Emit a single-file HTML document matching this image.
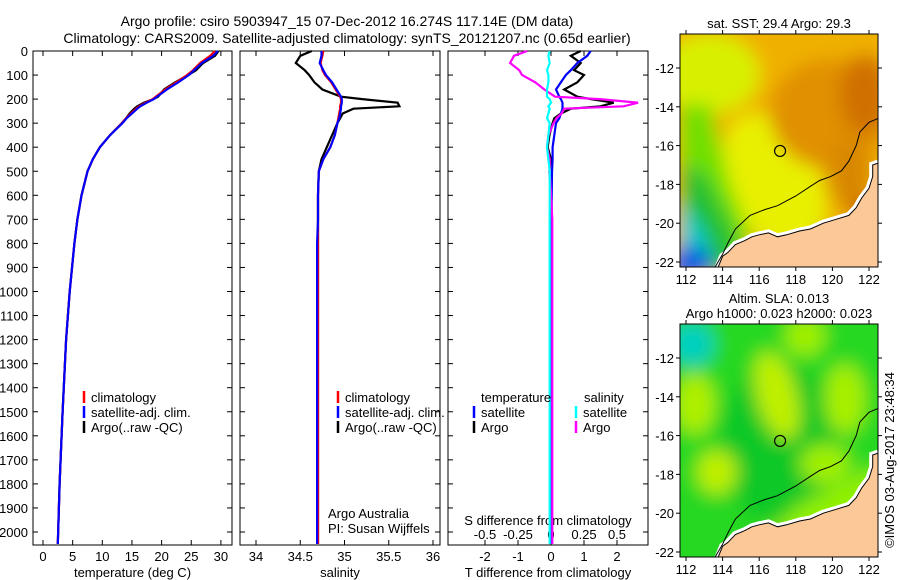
<!DOCTYPE html>
<html><head><meta charset="utf-8"><style>
body{margin:0;background:#fff}
svg{display:block;font-family:"Liberation Sans",sans-serif;font-size:13px}
</style></head><body>
<svg id="s" width="900" height="580" viewBox="0 0 900 580">
<text x="347" y="26" text-anchor="middle" font-size="14">Argo profile: csiro 5903947_15 07-Dec-2012 16.274S 117.14E (DM data)</text>
<text x="347" y="43" text-anchor="middle" font-size="14">Climatology: CARS2009. Satellite-adjusted climatology: synTS_20121207.nc (0.65d earlier)</text>
<g id="maps"></g>
<g id="plots"></g>
<text transform="translate(894,460) rotate(-90)" text-anchor="middle">©IMOS 03-Aug-2017 23:48:34</text>
</svg>
<script>
// ---- data ----
const depthTicks=[0,100,200,300,400,500,600,700,800,900,1000,1100,1200,1300,1400,1500,1600,1700,1800,1900,2000];
const tempTicks=[0,5,10,15,20,25,30];
const salTicks=[34,34.5,35,35.5,36];
const tdTicks=[-2,-1,0,1,2];
const sdTicks=[-0.5,-0.25,0,0.25,0.5];
const sdTickLabels=["-0.5","-0.25","0","0.25","0.5"];
const depths=[0,20,50,80,100,130,160,190,200,215,230,240,260,280,300,350,400,450,500,600,700,800,1000,1200,1500,1800,2050];
const tempClim=[29.0,28.2,26.5,25.3,24.3,22.5,20.6,19.0,18.5,17.3,16.2,15.7,14.8,14.0,13.3,11.3,9.6,8.4,7.5,6.5,5.8,5.3,4.5,3.9,3.3,2.8,2.5];
const tempSat=[29.5,28.7,26.8,25.5,24.6,22.8,20.9,19.2,18.7,17.5,16.4,15.9,15.0,14.1,13.4,11.3,9.6,8.4,7.5,6.5,5.8,5.3,4.5,3.9,3.3,2.8,2.5];
const tempArgo=[29.6,29.0,27.0,25.8,24.5,22.3,20.4,19.4,18.6,17.0,15.9,15.4,14.6,14.0,13.3,11.3,9.6,8.4,7.5,6.5,5.8,5.3,4.5,3.9,3.3,2.8,2.5];
const salClim=[34.76,34.75,34.73,34.75,34.78,34.85,34.90,34.95,34.96,34.96,34.95,34.95,34.94,34.93,34.92,34.89,34.84,34.76,34.71,34.70,34.70,34.70,34.70,34.70,34.70,34.70,34.70];
const salSat=[34.74,34.74,34.72,34.76,34.79,34.86,34.91,34.96,34.97,34.97,34.96,34.96,34.95,34.94,34.92,34.89,34.84,34.76,34.71,34.70,34.70,34.69,34.69,34.69,34.69,34.69,34.69];
const salArgo=[34.63,34.50,34.45,34.55,34.60,34.66,34.75,34.96,35.20,35.60,35.62,35.10,34.98,34.95,34.92,34.86,34.80,34.74,34.71,34.70,34.70,34.70,34.70,34.70,34.70,34.70,34.70];
const tdArgo=[0.9,0.6,0.9,0.7,1.0,0.8,0.4,0.8,1.2,1.9,1.5,0.6,0.3,0.1,0.05,-0.05,-0.1,0.0,-0.05,0.0,0.0,0.0,0.0,0.0,0.0,0.0,0.0];
const tdSat=[1.2,1.1,0.8,0.6,0.45,0.3,0.15,0.25,0.3,0.35,0.35,0.35,0.3,0.25,0.15,0.1,0.05,0.05,0.03,0.02,0.02,0.01,0.0,0.0,0.0,0.0,0.0];
const sdSat=[-0.01,-0.02,-0.01,-0.03,-0.02,-0.02,-0.03,-0.03,-0.01,0.0,-0.02,-0.01,-0.02,-0.03,-0.01,-0.02,-0.03,-0.02,-0.01,-0.01,-0.01,-0.01,-0.01,-0.01,-0.01,-0.01,-0.01];
const sdArgo=[-0.18,-0.28,-0.31,-0.24,-0.22,-0.12,-0.05,0.03,0.37,0.66,0.55,0.10,0.08,0.04,0.02,-0.02,-0.03,-0.01,-0.01,0.0,0.01,0.01,0.01,0.01,0.01,0.01,0.01];
const coastLL=[[113.7,-22.4],[114,-21.7],[114.3,-21.5],[114.7,-21.1],[115.2,-20.9],[115.6,-20.7],[116,-20.6],[116.5,-20.5],[117,-20.7],[117.5,-20.6],[118.2,-20.4],[118.8,-20.3],[119.5,-20],[120.2,-19.8],[120.9,-19.6],[121.3,-19.2],[121.6,-18.7],[122,-18.2],[122.2,-17.6],[122.2,-17.0],[122.5,-16.9]];
const isoLL=[[113.5,-22.4],[114,-21.6],[114.3,-21],[114.7,-20.3],[115.5,-19.6],[116.3,-19.3],[117,-19.1],[118,-18.6],[118.8,-18.1],[119.3,-17.8],[119.9,-17.6],[120.5,-17.3],[120.9,-16.8],[121.3,-16],[121.5,-15.3],[122,-14.8],[122.5,-14.6]];
const lonTicks=[112,114,116,118,120,122];
const latTicks=[-12,-14,-16,-18,-20,-22];
const argoPos=[117.14,-16.274];
// ---- helpers ----
const NS="http://www.w3.org/2000/svg";
function mk(p,t,a){const e=document.createElementNS(NS,t);for(const k in a)e.setAttribute(k,a[k]);p.appendChild(e);return e;}
const plots=document.getElementById('plots');
const yD=d=>51+d*0.2405;
const PT=51,PB=545;
function panel(name,x0,x1,xs,ticks,labels,xlabel){
  const g=mk(plots,'g',{});
  
  
  const r=mk(g,'rect',{x:x0,y:PT,width:x1-x0,height:PB-PT,fill:'#fff',stroke:'#000','stroke-width':1});
  
  
  ticks.forEach((t,i)=>{const x=xs(t);
    mk(g,'line',{x1:x,x2:x,y1:PT,y2:PT+5,stroke:'#000'});
    mk(g,'line',{x1:x,x2:x,y1:PB,y2:PB-5,stroke:'#000'});
    const tx=mk(g,'text',{x:x,y:561,'text-anchor':'middle'});tx.textContent=labels[i];
    
    
  });
  depthTicks.forEach(d=>{mk(g,'line',{x1:x0,x2:x0+5,y1:yD(d),y2:yD(d),stroke:'#000'});mk(g,'line',{x1:x1,x2:x1-5,y1:yD(d),y2:yD(d),stroke:'#000'});});
  if(xlabel){const t=mk(g,'text',{x:(x0+x1)/2,y:577,'text-anchor':'middle'});t.textContent=xlabel;
    
    }
  return g;
}
function line(g,vals,xs,col,name){
  const pts=vals.map((v,i)=>xs(v).toFixed(1)+','+yD(depths[i]).toFixed(1)).join(' ');
  const p=mk(g,'polyline',{points:pts,fill:'none',stroke:col,'stroke-width':2.2});
  
  
}
function txt(g,x,y,s,name,anchor){const t=mk(g,'text',{x:x,y:y,'text-anchor':anchor||'start'});t.textContent=s;
  
  return t;}
function leg(g,x,y,col,s,name){mk(g,'line',{x1:x,x2:x,y1:y-6,y2:y+6,stroke:col,'stroke-width':2.5});txt(g,x+7,y+5,s,name);}
// panel 1
const xT=v=>43+v*5.93;
const g1=panel('temperature-panel',33,232,xT,tempTicks,tempTicks.map(String),'temperature (deg C)');
depthTicks.forEach(d=>{const t=txt(g1,28,yD(d)+5,String(d),'y-tick-label','end');});
line(g1,tempArgo,xT,'#000','temp-argo-line');line(g1,tempClim,xT,'#f00','temp-climatology-line');line(g1,tempSat,xT,'#00f','temp-satellite-line');
leg(g1,84,397,'#f00','climatology','legend-climatology');leg(g1,84,412,'#00f','satellite-adj. clim.','legend-satellite');leg(g1,84,427,'#000','Argo(..raw -QC)','legend-argo');
// panel 2
const xS=v=>256+(v-34)*88.5;
const g2=panel('salinity-panel',240,440,xS,salTicks,salTicks.map(String),'salinity');
line(g2,salArgo,xS,'#000','sal-argo-line');line(g2,salClim,xS,'#f00','sal-climatology-line');line(g2,salSat,xS,'#00f','sal-satellite-line');
leg(g2,338,397,'#f00','climatology','legend-climatology');leg(g2,338,412,'#00f','satellite-adj. clim.','legend-satellite');leg(g2,338,427,'#000','Argo(..raw -QC)','legend-argo');
txt(g2,328,518,'Argo Australia','credit-argo-australia');txt(g2,328,533,'PI: Susan Wijffels','credit-pi');
// panel 3
const xTD=v=>551+v*33, xSD=v=>551+v*132;
const g3=panel('difference-panel',448,648,xTD,tdTicks,tdTicks.map(String),'T difference from climatology');
sdTicks.forEach((t,i)=>txt(g3,xSD(t),539,sdTickLabels[i],'s-diff-tick-label','middle'));
txt(g3,548,525,'S difference from climatology','s-diff-axis-title','middle');
line(g3,tdArgo,xTD,'#000','tdiff-argo-line');line(g3,tdSat,xTD,'#00f','tdiff-satellite-line');
line(g3,sdArgo,xSD,'#f0f','sdiff-argo-line');line(g3,sdSat,xSD,'#0ff','sdiff-satellite-line');
txt(g3,481,402,'temperature','legend-temperature-heading');txt(g3,584,402,'salinity','legend-salinity-heading');
leg(g3,474,412,'#00f','satellite','legend-t-satellite');leg(g3,474,427,'#000','Argo','legend-t-argo');
leg(g3,576,412,'#0ff','satellite','legend-s-satellite');leg(g3,576,427,'#f0f','Argo','legend-s-argo');
// ---- maps ----
const maps=document.getElementById('maps');
function map(name,top,blobs,title){
  const g=mk(maps,'g',{});
  
  
  const L=680,R=878,T=top,B=top+233;
  const lx=v=>686+(v-112)*18.3, ly=v=>T+34+(-12-v)*19.4;
  const id='clip'+top;
  const cp=mk(g,'clipPath',{id:id});mk(cp,'rect',{x:L,y:T,width:R-L,height:B-T});
  const f=mk(g,'filter',{id:'bl'+top,x:'-50%',y:'-50%',width:'200%',height:'200%'});mk(f,'feGaussianBlur',{stdDeviation:9});
  const cg=mk(g,'g',{'clip-path':'url(#'+id+')'});
  const bg=mk(cg,'g',{filter:'url(#bl'+top+')'});
  blobs.forEach(b=>{if(b[0]==='r')mk(bg,'rect',{x:L-30,y:T-30,width:R-L+60,height:B-T+60,fill:b[1]});
    else if(b[0]==='p')mk(bg,'polygon',{points:b[2].map(p=>(L+p[0])+','+(T+p[1])).join(' '),fill:b[1]});
    else mk(bg,'ellipse',{cx:L+b[2],cy:T+b[3],rx:b[4],ry:b[5],fill:b[1],transform:'rotate('+(b[6]||0)+' '+(L+b[2])+' '+(T+b[3])+')'});});
  const cpts=coastLL.map(p=>lx(p[0]).toFixed(1)+','+ly(p[1]).toFixed(1));
  mk(cg,'polyline',{points:cpts.join(' '),fill:'none',stroke:'#fff','stroke-width':7});
  const land=mk(cg,'polygon',{points:cpts.join(' ')+' '+(R+5)+','+ly(-16.9)+' '+(R+5)+','+(B+5)+' '+lx(113.7)+','+(B+5),fill:'#fcc898',stroke:'#000','stroke-width':1});
  
  
  const iso=mk(cg,'polyline',{points:isoLL.map(p=>lx(p[0]).toFixed(1)+','+ly(p[1]).toFixed(1)).join(' '),fill:'none',stroke:'#000','stroke-width':1});
  
  
  mk(g,'rect',{x:L,y:T,width:R-L,height:B-T,fill:'none',stroke:'#000'});
  lonTicks.forEach(v=>{const x=lx(v);mk(g,'line',{x1:x,x2:x,y1:T,y2:T-4,stroke:'#000'});mk(g,'line',{x1:x,x2:x,y1:B,y2:B+4,stroke:'#000'});
    const t=txt(g,x,B+17,String(v),'lon-tick-label','middle');t.setAttribute('font-size','13');});
  latTicks.forEach(v=>{const y=ly(v);mk(g,'line',{x1:L,x2:L-4,y1:y,y2:y,stroke:'#000'});mk(g,'line',{x1:R,x2:R+4,y1:y,y2:y,stroke:'#000'});
    const t=txt(g,L-6,y+5,String(v),'lat-tick-label','end');t.setAttribute('font-size','13');});
  const c=mk(g,'circle',{cx:lx(argoPos[0]),cy:ly(argoPos[1]),r:5.5,fill:'none',stroke:'#000','stroke-width':1.2});
  
  
  title.forEach((s,i)=>txt(g,779,top-(title.length-i)*15+9,s,'map-title','middle'));
}
map('sst-map',34,[
 ['r','#f0b000'],
 ['e','#d8f000',30,40,50,40,0],
 ['e','#e8f000',95,150,45,75,-25],
 ['e','#e09000',150,80,60,55,0],
 ['e','#d07000',185,60,25,40,0],
 ['e','#d88800',170,140,22,35,0],
 ['p','#70e000',[[0,70],[30,70],[50,150],[70,200],[60,240],[0,240]]],
 ['p','#20c030',[[0,130],[25,140],[60,210],[45,240],[0,240]]],
 ['p','#00c8d0',[[0,165],[25,200],[35,240],[0,240]]],
 ['e','#0060e0',10,230,22,18,0],
 ['e','#c03000',185,180,12,15,0],
 ['e','#d06000',150,205,15,10,0]
],['sat. SST: 29.4  Argo: 29.3']);
map('sla-map',324,[
 ['r','#28d820'],
 ['e','#10c828',100,120,60,80,0],
 ['e','#c0f000',97,72,20,45,-15],
 ['e','#b0f000',15,80,20,30,0],
 ['e','#c0f000',37,148,20,22,0],
 ['e','#a0f000',125,12,20,20,0],
 ['e','#a8f000',165,75,20,35,0],
 ['e','#a0f000',145,140,25,20,0],
 ['e','#00d0c0',12,20,22,22,0],
 ['p','#90f000',[[60,233],[120,180],[200,140],[200,233]]]
],['Altim. SLA: 0.013','Argo h1000: 0.023 h2000: 0.023']);
</script>
</body></html>
